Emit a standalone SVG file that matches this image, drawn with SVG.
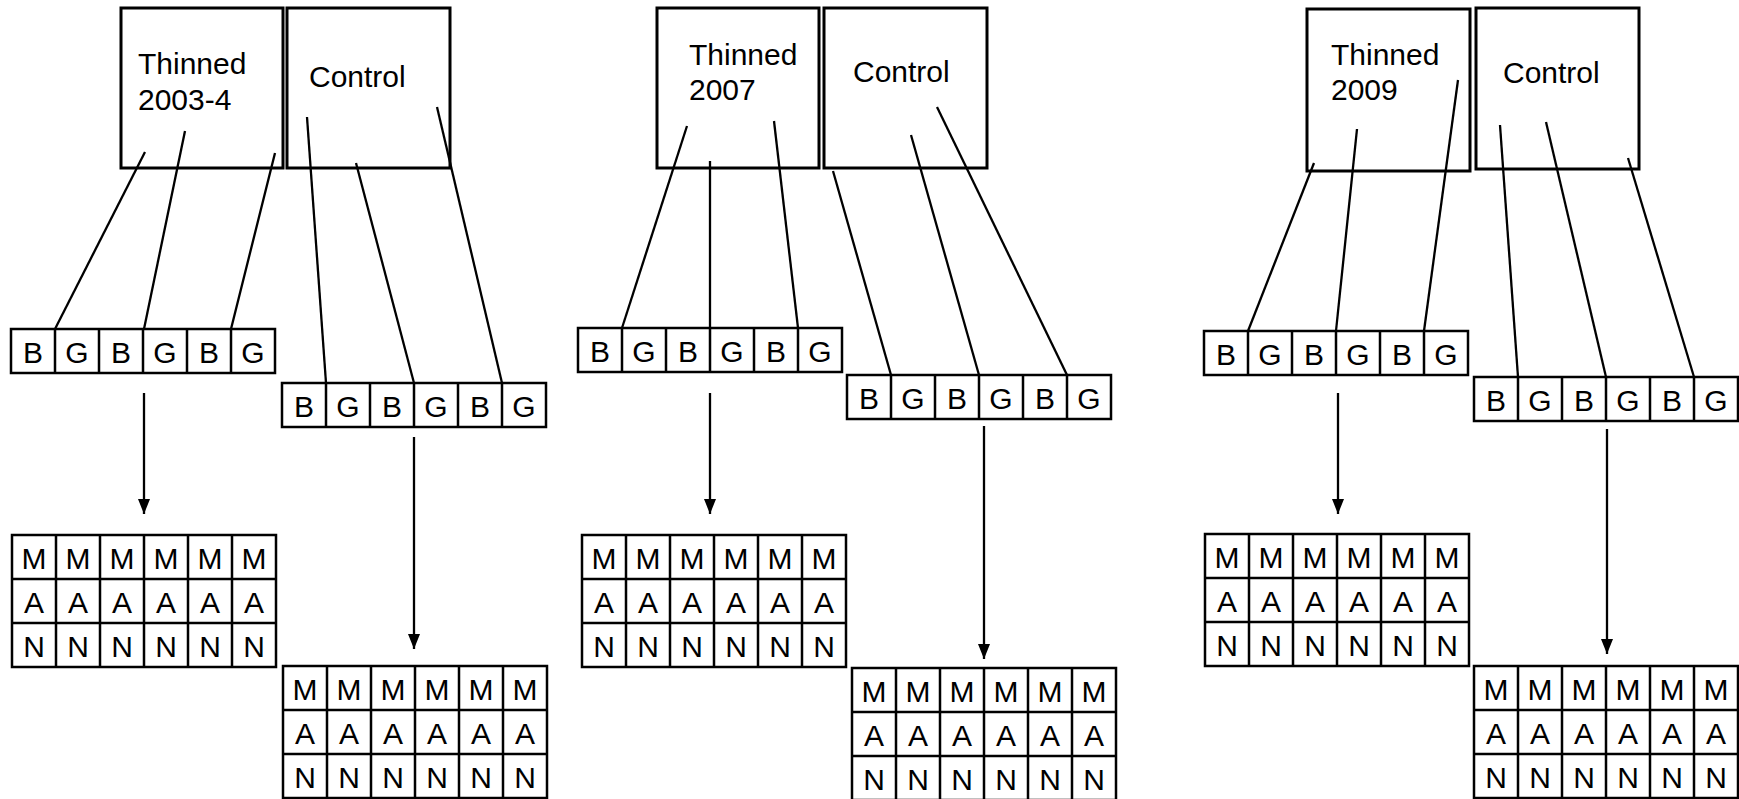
<svg xmlns="http://www.w3.org/2000/svg" width="1739" height="799" viewBox="0 0 1739 799">
  <style>
    .box { fill: none; stroke: #000; stroke-width: 3; }
    .cell { fill: #fff; stroke: #000; stroke-width: 2.5; }
    .div { stroke: #000; stroke-width: 2.5; }
    .lbl { font-family: "Liberation Sans", Arial, sans-serif; font-size: 30px; fill: #000; }
    .ch { font-family: "Liberation Sans", Arial, sans-serif; font-size: 30px; fill: #000; text-anchor: middle; }
    .ln { stroke: #000; stroke-width: 2.3; fill: none; }
  </style>
  <defs>
    <marker id="tip" viewBox="0 0 15 12" refX="15" refY="6" markerWidth="15" markerHeight="12" markerUnits="userSpaceOnUse" orient="auto">
      <path d="M0,0 L15,6 L0,12 Z" fill="#000"/>
    </marker>
  </defs>
  <rect width="1739" height="799" fill="#fff"/>

  <!-- connectors: plot lines and arrows -->
  <g id="connectors">
    <!-- panel 1 -->
    <line class="ln" x1="145" y1="152" x2="55" y2="329"/>
    <line class="ln" x1="185" y1="131" x2="144" y2="329"/>
    <line class="ln" x1="275" y1="153" x2="231" y2="329"/>
    <line class="ln" x1="307" y1="117" x2="326" y2="383"/>
    <line class="ln" x1="356" y1="163" x2="414" y2="383"/>
    <line class="ln" x1="437" y1="107" x2="502" y2="383"/>
    <line class="ln" x1="144" y1="393" x2="144" y2="514" marker-end="url(#tip)"/>
    <line class="ln" x1="414" y1="437" x2="414" y2="649" marker-end="url(#tip)"/>
    <!-- panel 2 -->
    <line class="ln" x1="687" y1="126" x2="622" y2="328"/>
    <line class="ln" x1="710" y1="161" x2="710" y2="328"/>
    <line class="ln" x1="774" y1="121" x2="798" y2="328"/>
    <line class="ln" x1="833" y1="171" x2="891" y2="375"/>
    <line class="ln" x1="911" y1="135" x2="979" y2="375"/>
    <line class="ln" x1="937" y1="107" x2="1067" y2="375"/>
    <line class="ln" x1="710" y1="393" x2="710" y2="514" marker-end="url(#tip)"/>
    <line class="ln" x1="984" y1="426" x2="984" y2="659" marker-end="url(#tip)"/>
    <!-- panel 3 -->
    <line class="ln" x1="1314" y1="163" x2="1248" y2="331"/>
    <line class="ln" x1="1357" y1="129" x2="1336" y2="331"/>
    <line class="ln" x1="1458" y1="80" x2="1424" y2="331"/>
    <line class="ln" x1="1500" y1="125" x2="1518" y2="377"/>
    <line class="ln" x1="1546" y1="122" x2="1606" y2="377"/>
    <line class="ln" x1="1628" y1="158" x2="1694" y2="377"/>
    <line class="ln" x1="1338" y1="393" x2="1338" y2="514" marker-end="url(#tip)"/>
    <line class="ln" x1="1607" y1="429" x2="1607" y2="654" marker-end="url(#tip)"/>
  </g>

  <!-- treatment boxes -->
  <g id="thinned-2003-4">
    <rect class="box" x="121" y="8" width="162" height="160"/>
    <text class="lbl" x="138" y="74">Thinned</text>
    <text class="lbl" x="138" y="110">2003-4</text>
  </g>
  <g id="control-1">
    <rect class="box" x="287" y="8" width="163" height="160"/>
    <text class="lbl" x="309" y="87">Control</text>
  </g>
  <g id="thinned-2007">
    <rect class="box" x="657" y="8" width="162" height="160"/>
    <text class="lbl" x="689" y="65">Thinned</text>
    <text class="lbl" x="689" y="100">2007</text>
  </g>
  <g id="control-2">
    <rect class="box" x="824" y="8" width="163" height="160"/>
    <text class="lbl" x="853" y="82">Control</text>
  </g>
  <g id="thinned-2009">
    <rect class="box" x="1307" y="9" width="163" height="162"/>
    <text class="lbl" x="1331" y="65">Thinned</text>
    <text class="lbl" x="1331" y="100">2009</text>
  </g>
  <g id="control-3">
    <rect class="box" x="1476" y="8" width="163" height="161"/>
    <text class="lbl" x="1503" y="83">Control</text>
  </g>

  <!-- B/G plot rows -->
  <g id="plots-thinned-1" transform="translate(11 329)">
    <rect class="cell" x="0" y="0" width="264" height="44"/>
    <path class="div" d="M44,0V44M88,0V44M132,0V44M176,0V44M220,0V44"/>
    <text class="ch" x="22" y="34">B</text><text class="ch" x="66" y="34">G</text><text class="ch" x="110" y="34">B</text><text class="ch" x="154" y="34">G</text><text class="ch" x="198" y="34">B</text><text class="ch" x="242" y="34">G</text>
  </g>
  <g id="plots-control-1" transform="translate(282 383)">
    <rect class="cell" x="0" y="0" width="264" height="44"/>
    <path class="div" d="M44,0V44M88,0V44M132,0V44M176,0V44M220,0V44"/>
    <text class="ch" x="22" y="34">B</text><text class="ch" x="66" y="34">G</text><text class="ch" x="110" y="34">B</text><text class="ch" x="154" y="34">G</text><text class="ch" x="198" y="34">B</text><text class="ch" x="242" y="34">G</text>
  </g>
  <g id="plots-thinned-2" transform="translate(578 328)">
    <rect class="cell" x="0" y="0" width="264" height="44"/>
    <path class="div" d="M44,0V44M88,0V44M132,0V44M176,0V44M220,0V44"/>
    <text class="ch" x="22" y="34">B</text><text class="ch" x="66" y="34">G</text><text class="ch" x="110" y="34">B</text><text class="ch" x="154" y="34">G</text><text class="ch" x="198" y="34">B</text><text class="ch" x="242" y="34">G</text>
  </g>
  <g id="plots-control-2" transform="translate(847 375)">
    <rect class="cell" x="0" y="0" width="264" height="44"/>
    <path class="div" d="M44,0V44M88,0V44M132,0V44M176,0V44M220,0V44"/>
    <text class="ch" x="22" y="34">B</text><text class="ch" x="66" y="34">G</text><text class="ch" x="110" y="34">B</text><text class="ch" x="154" y="34">G</text><text class="ch" x="198" y="34">B</text><text class="ch" x="242" y="34">G</text>
  </g>
  <g id="plots-thinned-3" transform="translate(1204 331)">
    <rect class="cell" x="0" y="0" width="264" height="44"/>
    <path class="div" d="M44,0V44M88,0V44M132,0V44M176,0V44M220,0V44"/>
    <text class="ch" x="22" y="34">B</text><text class="ch" x="66" y="34">G</text><text class="ch" x="110" y="34">B</text><text class="ch" x="154" y="34">G</text><text class="ch" x="198" y="34">B</text><text class="ch" x="242" y="34">G</text>
  </g>
  <g id="plots-control-3" transform="translate(1474 377)">
    <rect class="cell" x="0" y="0" width="264" height="44"/>
    <path class="div" d="M44,0V44M88,0V44M132,0V44M176,0V44M220,0V44"/>
    <text class="ch" x="22" y="34">B</text><text class="ch" x="66" y="34">G</text><text class="ch" x="110" y="34">B</text><text class="ch" x="154" y="34">G</text><text class="ch" x="198" y="34">B</text><text class="ch" x="242" y="34">G</text>
  </g>

  <!-- M/A/N grids -->
  <g id="grid-thinned-1" transform="translate(12 535)">
    <rect class="cell" x="0" y="0" width="264" height="132"/>
    <path class="div" d="M44,0V132M88,0V132M132,0V132M176,0V132M220,0V132M0,44H264M0,88H264"/>
    <text class="ch" x="22" y="34">M</text><text class="ch" x="66" y="34">M</text><text class="ch" x="110" y="34">M</text><text class="ch" x="154" y="34">M</text><text class="ch" x="198" y="34">M</text><text class="ch" x="242" y="34">M</text>
    <text class="ch" x="22" y="78">A</text><text class="ch" x="66" y="78">A</text><text class="ch" x="110" y="78">A</text><text class="ch" x="154" y="78">A</text><text class="ch" x="198" y="78">A</text><text class="ch" x="242" y="78">A</text>
    <text class="ch" x="22" y="122">N</text><text class="ch" x="66" y="122">N</text><text class="ch" x="110" y="122">N</text><text class="ch" x="154" y="122">N</text><text class="ch" x="198" y="122">N</text><text class="ch" x="242" y="122">N</text>
  </g>
  <g id="grid-control-1" transform="translate(283 666)">
    <rect class="cell" x="0" y="0" width="264" height="132"/>
    <path class="div" d="M44,0V132M88,0V132M132,0V132M176,0V132M220,0V132M0,44H264M0,88H264"/>
    <text class="ch" x="22" y="34">M</text><text class="ch" x="66" y="34">M</text><text class="ch" x="110" y="34">M</text><text class="ch" x="154" y="34">M</text><text class="ch" x="198" y="34">M</text><text class="ch" x="242" y="34">M</text>
    <text class="ch" x="22" y="78">A</text><text class="ch" x="66" y="78">A</text><text class="ch" x="110" y="78">A</text><text class="ch" x="154" y="78">A</text><text class="ch" x="198" y="78">A</text><text class="ch" x="242" y="78">A</text>
    <text class="ch" x="22" y="122">N</text><text class="ch" x="66" y="122">N</text><text class="ch" x="110" y="122">N</text><text class="ch" x="154" y="122">N</text><text class="ch" x="198" y="122">N</text><text class="ch" x="242" y="122">N</text>
  </g>
  <g id="grid-thinned-2" transform="translate(582 535)">
    <rect class="cell" x="0" y="0" width="264" height="132"/>
    <path class="div" d="M44,0V132M88,0V132M132,0V132M176,0V132M220,0V132M0,44H264M0,88H264"/>
    <text class="ch" x="22" y="34">M</text><text class="ch" x="66" y="34">M</text><text class="ch" x="110" y="34">M</text><text class="ch" x="154" y="34">M</text><text class="ch" x="198" y="34">M</text><text class="ch" x="242" y="34">M</text>
    <text class="ch" x="22" y="78">A</text><text class="ch" x="66" y="78">A</text><text class="ch" x="110" y="78">A</text><text class="ch" x="154" y="78">A</text><text class="ch" x="198" y="78">A</text><text class="ch" x="242" y="78">A</text>
    <text class="ch" x="22" y="122">N</text><text class="ch" x="66" y="122">N</text><text class="ch" x="110" y="122">N</text><text class="ch" x="154" y="122">N</text><text class="ch" x="198" y="122">N</text><text class="ch" x="242" y="122">N</text>
  </g>
  <g id="grid-control-2" transform="translate(852 668)">
    <rect class="cell" x="0" y="0" width="264" height="132"/>
    <path class="div" d="M44,0V132M88,0V132M132,0V132M176,0V132M220,0V132M0,44H264M0,88H264"/>
    <text class="ch" x="22" y="34">M</text><text class="ch" x="66" y="34">M</text><text class="ch" x="110" y="34">M</text><text class="ch" x="154" y="34">M</text><text class="ch" x="198" y="34">M</text><text class="ch" x="242" y="34">M</text>
    <text class="ch" x="22" y="78">A</text><text class="ch" x="66" y="78">A</text><text class="ch" x="110" y="78">A</text><text class="ch" x="154" y="78">A</text><text class="ch" x="198" y="78">A</text><text class="ch" x="242" y="78">A</text>
    <text class="ch" x="22" y="122">N</text><text class="ch" x="66" y="122">N</text><text class="ch" x="110" y="122">N</text><text class="ch" x="154" y="122">N</text><text class="ch" x="198" y="122">N</text><text class="ch" x="242" y="122">N</text>
  </g>
  <g id="grid-thinned-3" transform="translate(1205 534)">
    <rect class="cell" x="0" y="0" width="264" height="132"/>
    <path class="div" d="M44,0V132M88,0V132M132,0V132M176,0V132M220,0V132M0,44H264M0,88H264"/>
    <text class="ch" x="22" y="34">M</text><text class="ch" x="66" y="34">M</text><text class="ch" x="110" y="34">M</text><text class="ch" x="154" y="34">M</text><text class="ch" x="198" y="34">M</text><text class="ch" x="242" y="34">M</text>
    <text class="ch" x="22" y="78">A</text><text class="ch" x="66" y="78">A</text><text class="ch" x="110" y="78">A</text><text class="ch" x="154" y="78">A</text><text class="ch" x="198" y="78">A</text><text class="ch" x="242" y="78">A</text>
    <text class="ch" x="22" y="122">N</text><text class="ch" x="66" y="122">N</text><text class="ch" x="110" y="122">N</text><text class="ch" x="154" y="122">N</text><text class="ch" x="198" y="122">N</text><text class="ch" x="242" y="122">N</text>
  </g>
  <g id="grid-control-3" transform="translate(1474 666)">
    <rect class="cell" x="0" y="0" width="264" height="132"/>
    <path class="div" d="M44,0V132M88,0V132M132,0V132M176,0V132M220,0V132M0,44H264M0,88H264"/>
    <text class="ch" x="22" y="34">M</text><text class="ch" x="66" y="34">M</text><text class="ch" x="110" y="34">M</text><text class="ch" x="154" y="34">M</text><text class="ch" x="198" y="34">M</text><text class="ch" x="242" y="34">M</text>
    <text class="ch" x="22" y="78">A</text><text class="ch" x="66" y="78">A</text><text class="ch" x="110" y="78">A</text><text class="ch" x="154" y="78">A</text><text class="ch" x="198" y="78">A</text><text class="ch" x="242" y="78">A</text>
    <text class="ch" x="22" y="122">N</text><text class="ch" x="66" y="122">N</text><text class="ch" x="110" y="122">N</text><text class="ch" x="154" y="122">N</text><text class="ch" x="198" y="122">N</text><text class="ch" x="242" y="122">N</text>
  </g>
</svg>
